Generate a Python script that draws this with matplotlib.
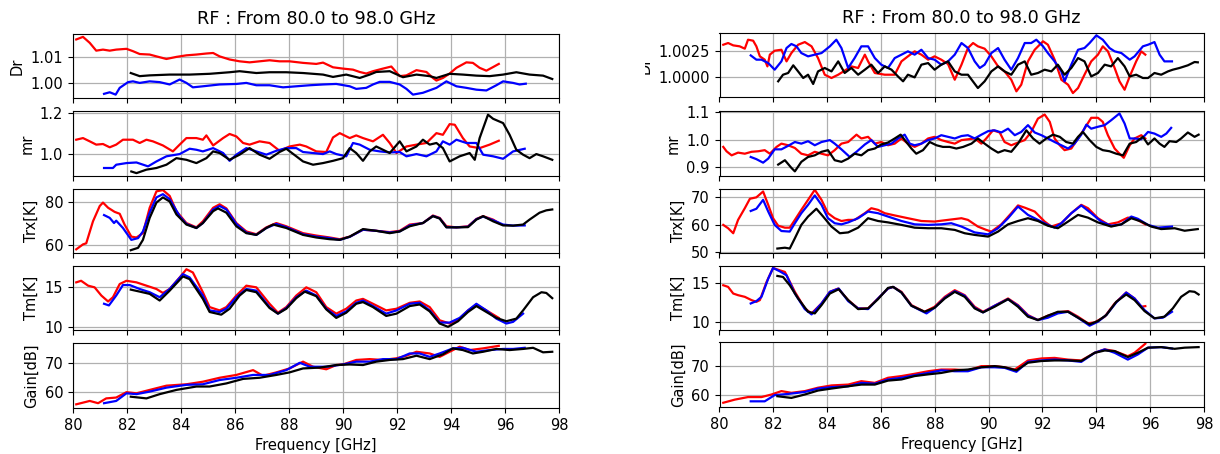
import matplotlib
matplotlib.use("Agg")
import matplotlib.pyplot as plt
from matplotlib.transforms import Bbox, TransformedBbox

# ---------------- left block ----------------
L_dr_red_f = [80.12, 80.37, 80.62, 80.86, 81.11, 81.36, 81.60, 81.98, 82.22, 82.47, 82.84, 83.09, 83.46, 83.83, 84.20, 84.57,
              84.94, 85.19, 85.43, 85.80, 86.17, 86.54, 86.91, 87.28, 87.65, 88.02, 88.52, 89.01, 89.26, 89.63, 90.00, 90.37,
              90.62, 90.86, 91.11, 91.48, 91.79, 92.10, 92.35, 92.72, 93.09, 93.33, 93.46, 93.70, 93.95, 94.20, 94.57, 94.81,
              95.06, 95.31, 95.56, 95.77]
L_dr_red = [1.0167, 1.0177, 1.0154, 1.0124, 1.0128, 1.0124, 1.0128, 1.0131, 1.0122, 1.0111, 1.0109, 1.0102, 1.0092, 1.0100, 1.0106, 1.0109,
            1.0113, 1.0115, 1.0102, 1.0090, 1.0083, 1.0079, 1.0083, 1.0087, 1.0083, 1.0083, 1.0077, 1.0073, 1.0078, 1.0060, 1.0055, 1.0051,
            1.0042, 1.0036, 1.0045, 1.0055, 1.0063, 1.0026, 1.0029, 1.0049, 1.0042, 1.0019, 1.0009, 1.0019, 1.0036, 1.0058, 1.0079, 1.0077,
            1.0058, 1.0047, 1.0061, 1.0073]
L_dr_blue_f = [81.15, 81.36, 81.58, 81.73, 82.04, 82.22, 82.47, 82.84, 83.21, 83.58, 83.95, 84.20, 84.44, 84.81, 85.43, 86.05,
               86.42, 86.79, 87.28, 87.78, 88.27, 88.77, 89.26, 89.75, 90.25, 90.49, 90.86, 91.11, 91.36, 91.73, 92.10, 92.35,
               92.59, 92.96, 93.46, 93.83, 94.20, 94.57, 94.94, 95.31, 95.68, 95.93, 96.30, 96.54, 96.77]
L_dr_blue = [0.9958, 0.9964, 0.9955, 0.9981, 1.0003, 1.0006, 1.0000, 1.0006, 1.0003, 0.9994, 1.0013, 1.0000, 0.9983, 0.9987, 0.9994, 0.9996,
             1.0000, 0.9991, 0.9991, 0.9983, 0.9987, 0.9991, 0.9994, 0.9996, 0.9987, 0.9977, 0.9981, 0.9994, 1.0004, 1.0004, 0.9994, 0.9977,
             0.9955, 0.9962, 0.9981, 1.0006, 0.9987, 0.9981, 0.9974, 0.9971, 0.9991, 1.0006, 1.0000, 0.9994, 0.9997]
L_dr_black_f = [82.14, 82.47, 82.84, 83.58, 84.32, 85.06, 85.80, 86.17, 86.79, 87.28, 87.90, 88.52, 89.26, 89.63, 90.12, 90.62,
                90.99, 91.23, 91.73, 92.22, 92.72, 93.21, 93.46, 93.95, 94.44, 94.94, 95.43, 95.93, 96.42, 96.91, 97.41, 97.75]
L_dr_black = [1.0038, 1.0026, 1.0029, 1.0032, 1.0032, 1.0035, 1.0041, 1.0045, 1.0038, 1.0041, 1.0041, 1.0038, 1.0032, 1.0023, 1.0032, 1.0019,
              1.0032, 1.0042, 1.0045, 1.0022, 1.0032, 1.0026, 1.0019, 1.0035, 1.0032, 1.0028, 1.0026, 1.0032, 1.0041, 1.0032, 1.0028, 1.0015]

L_mr_red_f = [80.12, 80.37, 80.62, 80.86, 81.11, 81.36, 81.60, 81.85, 82.22, 82.47, 82.72, 82.96, 83.33, 83.70, 83.95, 84.20,
              84.57, 84.81, 84.94, 85.19, 85.56, 85.80, 86.05, 86.30, 86.54, 86.91, 87.28, 87.65, 88.02, 88.40, 88.64, 89.01,
              89.38, 89.63, 89.88, 90.25, 90.49, 90.74, 91.11, 91.48, 91.73, 91.98, 92.35, 92.72, 93.09, 93.46, 93.70, 93.95,
              94.14, 94.44, 94.69, 95.06, 95.43, 95.77]
L_mr_red = [1.070, 1.078, 1.062, 1.046, 1.049, 1.033, 1.046, 1.070, 1.070, 1.054, 1.070, 1.062, 1.042, 1.013, 1.046, 1.078,
            1.078, 1.070, 1.091, 1.042, 1.078, 1.098, 1.086, 1.054, 1.046, 1.062, 1.054, 1.016, 1.037, 1.046, 1.037, 1.013,
            1.010, 1.081, 1.102, 1.078, 1.091, 1.078, 1.062, 1.094, 1.054, 1.005, 1.037, 1.046, 1.054, 1.102, 1.094, 1.146,
            1.143, 1.078, 1.037, 1.029, 1.046, 1.065]
L_mr_blue_f = [81.15, 81.48, 81.60, 81.98, 82.35, 82.78, 83.09, 83.46, 83.95, 84.32, 84.57, 84.81, 85.19, 85.56, 85.80, 86.05,
               86.42, 86.79, 87.16, 87.53, 87.90, 88.27, 88.52, 88.89, 89.26, 89.51, 89.75, 90.12, 90.37, 90.62, 90.99, 91.36,
               91.73, 92.10, 92.35, 92.72, 93.09, 93.46, 93.70, 93.95, 94.20, 94.57, 94.94, 95.19, 95.56, 95.93, 96.30, 96.73]
L_mr_blue = [0.932, 0.932, 0.948, 0.956, 0.959, 0.940, 0.964, 0.989, 1.000, 1.026, 1.021, 1.013, 1.029, 1.005, 0.967, 0.997,
             1.029, 1.013, 0.997, 1.016, 1.029, 1.029, 1.010, 1.005, 1.000, 1.013, 1.000, 0.989, 1.054, 1.046, 1.021, 1.013,
             1.008, 1.010, 0.989, 1.000, 0.989, 1.013, 1.062, 1.046, 1.070, 1.054, 1.054, 0.997, 0.989, 0.977, 1.013, 1.026]
L_mr_black_f = [82.16, 82.35, 82.72, 83.09, 83.46, 83.83, 84.20, 84.57, 84.94, 85.19, 85.43, 85.80, 86.17, 86.54, 86.91, 87.28,
                87.65, 87.90, 88.27, 88.52, 88.89, 89.26, 89.63, 90.00, 90.25, 90.49, 90.74, 90.99, 91.23, 91.48, 91.73, 92.10,
                92.35, 92.72, 92.96, 93.21, 93.46, 93.70, 93.95, 94.32, 94.69, 94.88, 95.06, 95.37, 95.56, 95.93, 96.17, 96.42,
                96.67, 96.91, 97.16, 97.41, 97.75]
L_mr_black = [0.915, 0.907, 0.924, 0.932, 0.948, 0.980, 0.972, 0.956, 0.980, 1.013, 1.005, 0.972, 0.997, 1.029, 0.997, 0.977,
              1.010, 1.026, 0.989, 0.964, 0.948, 0.956, 0.967, 0.980, 1.029, 1.005, 0.967, 1.013, 1.037, 1.021, 1.005, 1.062,
              1.013, 1.037, 1.070, 1.046, 1.054, 1.029, 0.964, 0.989, 1.005, 0.972, 1.078, 1.192, 1.172, 1.151, 1.094, 1.021,
              0.997, 0.980, 1.000, 0.989, 0.972]

L_trx_red_f = [80.12, 80.37, 80.49, 80.74, 80.99, 81.11, 81.30, 81.54, 81.73, 81.91, 82.16, 82.35, 82.59, 82.84, 83.09, 83.33,
               83.58, 83.83, 84.20, 84.57, 84.81, 85.19, 85.43, 85.68, 86.05, 86.42, 86.79, 87.16, 87.53, 87.90, 88.52, 89.01,
               89.51, 89.88, 90.25, 90.74, 91.23, 91.73, 92.10, 92.47, 92.96, 93.33, 93.58, 93.83, 94.20, 94.63, 94.94, 95.19,
               95.56, 95.77]
L_trx_red = [58.0, 60.3, 60.8, 71.0, 78.1, 79.7, 77.3, 75.4, 74.5, 69.5, 63.9, 63.5, 65.5, 77.3, 84.9, 85.5,
             82.8, 75.7, 70.2, 68.2, 71.0, 77.3, 78.9, 77.0, 70.2, 66.3, 65.0, 68.2, 70.2, 68.7, 65.5, 64.4,
             63.5, 62.7, 63.9, 67.1, 66.6, 66.0, 66.6, 69.5, 70.2, 73.7, 72.6, 68.7, 68.2, 68.7, 72.1, 73.4,
             71.8, 70.2]
L_trx_blue_f = [81.15, 81.36, 81.52, 81.60, 81.85, 82.16, 82.41, 82.59, 82.84, 83.09, 83.33, 83.58, 83.95, 84.20, 84.57, 84.81,
                85.19, 85.43, 85.68, 86.05, 86.42, 86.79, 87.16, 87.53, 87.90, 88.52, 89.01, 89.51, 89.88, 90.25, 90.74, 91.23,
                91.73, 92.10, 92.47, 92.96, 93.33, 93.58, 93.83, 94.20, 94.63, 94.94, 95.19, 95.56, 95.93, 96.30, 96.73]
L_trx_blue = [73.9, 72.6, 70.2, 71.3, 67.9, 62.4, 63.2, 66.3, 75.0, 82.1, 83.6, 81.3, 73.4, 69.8, 67.9, 70.2,
              76.5, 78.1, 76.5, 69.8, 65.8, 64.7, 67.9, 69.8, 68.3, 65.0, 63.9, 63.2, 62.4, 63.8, 67.1, 66.6,
              65.8, 66.3, 69.1, 70.2, 73.5, 72.4, 68.3, 68.2, 68.5, 72.0, 73.2, 71.5, 69.5, 69.0, 69.1]
L_trx_black_f = [82.14, 82.41, 82.59, 82.84, 83.09, 83.33, 83.58, 83.83, 84.20, 84.57, 84.81, 85.19, 85.37, 85.68, 86.05, 86.42,
                 86.79, 87.16, 87.41, 87.90, 88.52, 89.01, 89.51, 89.88, 90.25, 90.74, 91.23, 91.73, 92.10, 92.47, 92.96, 93.33,
                 93.58, 93.83, 94.20, 94.63, 94.94, 95.19, 95.56, 95.93, 96.30, 96.67, 96.91, 97.28, 97.53, 97.75]
L_trx_black = [57.6, 58.7, 62.4, 72.6, 79.7, 82.1, 80.2, 74.2, 69.5, 67.9, 70.2, 75.7, 77.0, 75.0, 68.7, 65.5,
               64.7, 67.9, 69.5, 67.9, 64.7, 63.5, 62.7, 62.4, 63.9, 67.4, 66.6, 65.5, 66.3, 68.7, 70.2, 73.4,
               72.3, 68.2, 68.2, 68.3, 71.8, 73.4, 71.0, 69.1, 69.0, 69.5, 71.8, 75.0, 76.1, 76.5]

L_tm_red_f = [80.12, 80.30, 80.56, 80.80, 81.05, 81.30, 81.48, 81.73, 81.98, 82.35, 82.72, 83.09, 83.33, 83.58, 83.95, 84.20,
              84.44, 84.81, 85.06, 85.43, 85.68, 86.05, 86.42, 86.79, 87.28, 87.59, 87.90, 88.27, 88.64, 89.01, 89.38, 89.75,
              90.12, 90.49, 90.74, 91.11, 91.60, 91.98, 92.47, 92.84, 93.21, 93.58, 93.95, 94.32, 94.63, 94.94, 95.31, 95.77]
L_tm_red = [15.63, 15.83, 15.21, 15.00, 13.96, 13.21, 13.75, 15.42, 15.83, 15.63, 15.21, 14.79, 14.29, 14.79, 16.25, 17.29,
            16.88, 14.38, 12.50, 12.08, 12.50, 13.96, 15.21, 15.00, 12.92, 11.79, 12.50, 13.96, 15.00, 14.38, 12.50, 11.67,
            12.29, 13.33, 13.54, 12.92, 12.08, 12.29, 13.04, 13.21, 12.50, 10.83, 10.42, 11.04, 12.08, 12.79, 12.08, 11.13]
L_tm_blue_f = [81.15, 81.33, 81.60, 81.85, 82.10, 82.47, 82.84, 83.21, 83.58, 84.07, 84.32, 84.81, 85.06, 85.43, 85.68, 86.05,
               86.42, 86.79, 87.28, 87.59, 87.90, 88.27, 88.64, 89.01, 89.38, 89.75, 90.12, 90.49, 90.74, 91.11, 91.60, 91.98,
               92.47, 92.84, 93.21, 93.58, 93.95, 94.32, 94.63, 94.94, 95.31, 95.68, 96.05, 96.30, 96.67]
L_tm_blue = [12.92, 12.71, 13.96, 15.29, 15.29, 14.79, 14.38, 13.75, 14.79, 16.67, 16.25, 13.96, 12.08, 11.88, 12.29, 13.75,
             14.79, 14.58, 12.50, 11.67, 12.38, 13.75, 14.58, 13.96, 12.29, 11.38, 11.96, 13.04, 13.33, 12.63, 11.67, 12.08,
             12.92, 13.04, 12.08, 10.54, 10.54, 11.13, 12.08, 12.92, 12.08, 11.04, 10.42, 10.63, 11.67]
L_tm_black_f = [82.14, 82.47, 82.84, 83.21, 83.58, 84.07, 84.32, 84.81, 85.06, 85.49, 85.80, 86.17, 86.42, 86.79, 87.28, 87.59,
                87.90, 88.27, 88.58, 89.01, 89.38, 89.75, 90.12, 90.49, 90.74, 91.11, 91.60, 91.98, 92.47, 92.84, 93.21, 93.58,
                93.89, 94.26, 94.63, 94.94, 95.31, 95.68, 96.05, 96.42, 96.67, 97.04, 97.35, 97.53, 97.75]
L_tm_black = [14.71, 14.46, 14.17, 13.33, 14.58, 16.38, 16.04, 13.54, 11.88, 11.54, 12.29, 13.96, 14.67, 14.38, 12.38, 11.67,
              12.29, 13.63, 14.46, 13.88, 12.21, 11.13, 11.79, 12.92, 13.13, 12.50, 11.38, 11.67, 12.63, 12.83, 11.96, 10.42,
              10.00, 10.71, 11.88, 12.63, 11.88, 11.13, 10.71, 11.04, 12.08, 13.75, 14.38, 14.29, 13.63]

L_gain_red_f = [80.12, 80.62, 80.93, 81.23, 81.60, 81.98, 82.35, 82.84, 83.46, 84.20, 84.81, 85.43, 86.05, 86.67, 87.04, 87.53,
                88.02, 88.52, 88.89, 89.38, 89.75, 90.00, 90.49, 90.99, 91.48, 91.98, 92.35, 92.72, 93.21, 93.58, 93.95, 94.32,
                94.69, 95.19, 95.77]
L_gain_red = [55.5, 56.7, 55.9, 57.6, 57.9, 59.8, 59.4, 60.6, 62.1, 62.6, 63.5, 64.9, 65.9, 67.6, 65.6, 66.8,
              68.2, 70.6, 68.8, 67.9, 69.4, 69.6, 71.2, 71.5, 71.2, 71.8, 72.7, 74.1, 73.5, 72.3, 74.1, 75.9,
              74.7, 75.3, 76.2]
L_gain_blue_f = [81.15, 81.60, 81.98, 82.35, 82.84, 83.46, 84.20, 84.81, 85.43, 86.05, 86.67, 87.28, 87.90, 88.40, 88.77, 89.38,
                 90.00, 90.49, 90.99, 91.48, 91.98, 92.47, 92.84, 93.21, 93.58, 94.07, 94.44, 94.94, 95.43, 95.93, 96.30, 96.73]
L_gain_blue = [55.9, 56.7, 59.4, 59.1, 60.0, 61.4, 62.4, 62.6, 64.1, 64.9, 65.9, 65.9, 67.6, 70.2, 68.8, 68.8,
               69.6, 70.6, 70.6, 71.5, 71.5, 73.5, 73.5, 72.3, 73.5, 75.3, 75.5, 74.1, 74.7, 75.1, 75.1, 75.5]
L_gain_black_f = [82.14, 82.72, 83.21, 83.83, 84.57, 85.06, 85.68, 86.30, 86.91, 87.53, 88.02, 88.52, 89.14, 89.75, 90.25, 90.74,
                  91.23, 91.73, 92.22, 92.72, 93.21, 93.70, 94.07, 94.44, 94.81, 95.19, 95.68, 96.17, 96.67, 97.04, 97.41, 97.75]
L_gain_black = [58.2, 57.6, 59.1, 60.6, 61.8, 61.8, 62.9, 64.5, 64.9, 65.9, 66.8, 68.2, 68.5, 69.4, 69.6, 69.4,
                70.6, 71.2, 71.5, 72.7, 71.5, 73.2, 75.3, 74.7, 73.5, 74.1, 75.1, 74.7, 75.1, 75.5, 73.9, 74.1]

# ---------------- right block ----------------
R_dr_red_f = [80.14, 80.32, 80.51, 80.75, 80.94, 81.06, 81.25, 81.37, 81.50, 81.68, 81.78, 81.87, 82.05, 82.30, 82.49, 82.67,
              82.92, 83.17, 83.42, 83.66, 83.91, 84.16, 84.41, 84.65, 84.90, 85.15, 85.40, 85.52, 85.77, 86.14, 86.51, 86.76,
              87.00, 87.25, 87.50, 87.75, 87.99, 88.24, 88.49, 88.74, 88.99, 89.23, 89.42, 89.60, 89.85, 90.10, 90.35, 90.59,
              90.84, 91.03, 91.21, 91.46, 91.71, 92.02, 92.20, 92.45, 92.70, 92.95, 93.13, 93.32, 93.56, 93.81, 94.06, 94.24,
              94.43, 94.68, 94.86, 95.05, 95.24, 95.48, 95.67, 95.82]
R_dr_red = [1.00306, 1.00322, 1.00300, 1.00291, 1.00269, 1.00353, 1.00344, 1.00291, 1.00197, 1.00166, 1.00103, 1.00213, 1.00250, 1.00259, 1.00150, 1.00228,
            1.00306, 1.00331, 1.00291, 1.00181, 1.00025, 0.99994, 1.00025, 1.00063, 1.00103, 1.00088, 1.00213, 1.00150, 1.00041, 1.00025, 1.00025, 1.00150,
            1.00197, 1.00244, 1.00213, 1.00166, 1.00197, 1.00166, 1.00125, 0.99978, 1.00119, 1.00275, 1.00322, 1.00291, 1.00269, 1.00197, 1.00103, 1.00056,
            0.99978, 0.99869, 0.99931, 1.00150, 1.00259, 1.00338, 1.00306, 1.00166, 0.99978, 0.99931, 0.99853, 0.99900, 1.00025, 1.00150, 1.00213, 1.00291,
            1.00244, 1.00088, 0.99963, 0.99884, 1.00009, 1.00150, 1.00244, 1.00213]
R_dr_blue_f = [81.16, 81.37, 81.56, 81.81, 82.05, 82.30, 82.49, 82.67, 82.86, 83.04, 83.29, 83.54, 83.79, 84.10, 84.34, 84.53,
               84.78, 85.02, 85.27, 85.52, 85.77, 86.01, 86.26, 86.51, 86.76, 87.00, 87.25, 87.50, 87.75, 87.99, 88.24, 88.49,
               88.74, 88.99, 89.23, 89.48, 89.67, 89.85, 90.10, 90.35, 90.59, 90.84, 91.09, 91.34, 91.58, 91.77, 92.02, 92.20,
               92.45, 92.70, 92.82, 93.07, 93.32, 93.56, 93.75, 94.00, 94.24, 94.49, 94.68, 94.93, 95.24, 95.42, 95.73, 95.92,
               96.16, 96.35, 96.53, 96.81]
R_dr_blue = [1.00206, 1.00166, 1.00166, 1.00134, 1.00072, 1.00150, 1.00275, 1.00313, 1.00291, 1.00228, 1.00197, 1.00213, 1.00228, 1.00291, 1.00353, 1.00275,
             1.00088, 1.00181, 1.00291, 1.00291, 1.00181, 1.00119, 1.00088, 1.00181, 1.00213, 1.00244, 1.00213, 1.00259, 1.00181, 1.00166, 1.00119, 1.00150,
             1.00213, 1.00322, 1.00275, 1.00150, 1.00088, 1.00119, 1.00228, 1.00275, 1.00166, 1.00072, 1.00181, 1.00322, 1.00322, 1.00353, 1.00291, 1.00228,
             1.00150, 1.00056, 0.99963, 1.00119, 1.00259, 1.00275, 1.00322, 1.00394, 1.00353, 1.00275, 1.00244, 1.00228, 1.00166, 1.00197, 1.00291, 1.00306,
             1.00331, 1.00213, 1.00150, 1.00150]
R_dr_black_f = [82.18, 82.36, 82.55, 82.74, 82.92, 83.11, 83.29, 83.48, 83.66, 83.91, 84.16, 84.41, 84.65, 84.90, 85.15, 85.40,
                85.64, 85.89, 86.14, 86.39, 86.63, 86.82, 87.00, 87.25, 87.50, 87.75, 87.99, 88.24, 88.49, 88.74, 88.99, 89.23,
                89.60, 89.85, 90.10, 90.35, 90.59, 90.84, 91.09, 91.34, 91.58, 91.83, 92.08, 92.33, 92.57, 92.82, 93.07, 93.32,
                93.56, 93.81, 94.06, 94.31, 94.55, 94.80, 95.05, 95.24, 95.48, 95.73, 95.92, 96.16, 96.41, 96.66, 96.84, 97.09,
                97.40, 97.65, 97.77]
R_dr_black = [0.99963, 1.00025, 1.00041, 1.00113, 1.00056, 0.99994, 1.00025, 0.99938, 1.00056, 1.00088, 1.00056, 1.00150, 1.00041, 1.00088, 1.00025, 1.00072,
              1.00119, 1.00041, 1.00103, 1.00072, 1.00009, 0.99963, 1.00025, 1.00000, 1.00119, 1.00134, 1.00072, 1.00119, 1.00150, 1.00056, 1.00025, 1.00025,
              0.99900, 0.99963, 1.00056, 1.00103, 1.00056, 1.00025, 1.00119, 1.00150, 1.00025, 1.00041, 1.00072, 1.00056, 1.00119, 1.00025, 1.00088, 1.00181,
              1.00150, 1.00009, 1.00041, 1.00119, 1.00103, 1.00181, 1.00103, 1.00009, 1.00025, 0.99994, 0.99994, 1.00041, 1.00025, 1.00056, 1.00072, 1.00088,
              1.00113, 1.00144, 1.00141]

R_mr_red_f = [80.14, 80.26, 80.45, 80.69, 80.94, 81.19, 81.44, 81.68, 81.87, 82.12, 82.30, 82.55, 82.80, 83.04, 83.29, 83.54,
              83.79, 84.03, 84.28, 84.53, 84.78, 85.09, 85.27, 85.52, 85.77, 86.01, 86.26, 86.51, 86.76, 87.00, 87.25, 87.50,
              87.75, 87.99, 88.24, 88.49, 88.74, 88.99, 89.23, 89.48, 89.73, 89.91, 90.16, 90.41, 90.59, 90.84, 91.09, 91.34,
              91.58, 91.83, 92.08, 92.27, 92.45, 92.64, 92.82, 93.07, 93.32, 93.56, 93.81, 94.06, 94.24, 94.43, 94.68, 94.86,
              95.02, 95.24, 95.42, 95.67, 95.82]
R_mr_red = [0.973, 0.957, 0.942, 0.952, 0.948, 0.955, 0.957, 0.961, 0.948, 0.973, 0.985, 0.979, 0.969, 0.948, 0.942, 0.955,
            0.948, 0.942, 0.961, 0.985, 0.991, 1.018, 1.004, 1.010, 0.985, 0.991, 0.979, 0.985, 1.004, 0.985, 0.973, 0.985,
            1.004, 1.010, 0.998, 0.991, 0.985, 0.998, 1.001, 1.004, 0.985, 1.004, 1.034, 1.026, 0.991, 0.979, 0.989, 0.998,
            1.028, 1.077, 1.092, 1.065, 1.004, 0.979, 0.961, 0.967, 1.004, 1.040, 1.080, 1.080, 1.065, 1.016, 0.967, 0.948,
            0.933, 0.979, 1.004, 1.016, 1.004]
R_mr_blue_f = [81.16, 81.37, 81.62, 81.81, 82.05, 82.30, 82.55, 82.80, 83.04, 83.29, 83.54, 83.79, 84.10, 84.28, 84.53, 84.84,
               85.09, 85.40, 85.64, 85.89, 86.14, 86.39, 86.63, 86.88, 87.07, 87.25, 87.50, 87.75, 87.99, 88.24, 88.49, 88.74,
               88.99, 89.23, 89.48, 89.73, 89.98, 90.22, 90.47, 90.72, 90.97, 91.21, 91.46, 91.71, 91.96, 92.20, 92.45, 92.70,
               92.95, 93.19, 93.44, 93.63, 93.81, 94.06, 94.31, 94.55, 94.86, 95.05, 95.24, 95.42, 95.67, 95.92, 96.16, 96.41,
               96.60, 96.78]
R_mr_blue = [0.936, 0.928, 0.915, 0.930, 0.964, 0.964, 0.977, 0.991, 0.985, 0.994, 0.979, 0.991, 0.998, 0.985, 0.964, 0.936,
             0.955, 0.982, 0.998, 0.973, 0.979, 0.985, 1.004, 1.018, 0.985, 0.979, 0.985, 0.998, 1.004, 1.016, 1.010, 1.004,
             1.013, 1.016, 1.004, 1.018, 1.031, 1.034, 1.026, 1.040, 1.016, 1.028, 1.053, 1.026, 1.016, 1.004, 0.991, 0.979,
             0.967, 0.985, 1.018, 1.055, 1.040, 1.047, 1.053, 1.071, 1.096, 1.059, 1.004, 1.004, 1.001, 1.028, 1.022, 1.010,
             1.022, 1.043]
R_mr_black_f = [82.18, 82.43, 82.67, 82.80, 83.04, 83.29, 83.54, 83.79, 84.03, 84.28, 84.53, 84.78, 85.02, 85.27, 85.52, 85.77,
                86.01, 86.26, 86.51, 86.73, 86.94, 87.13, 87.31, 87.56, 87.81, 88.06, 88.30, 88.55, 88.80, 89.05, 89.36, 89.60,
                89.85, 90.10, 90.35, 90.59, 90.84, 91.09, 91.40, 91.65, 91.89, 92.14, 92.39, 92.64, 92.88, 93.13, 93.32, 93.50,
                93.75, 94.00, 94.24, 94.49, 94.74, 94.99, 95.24, 95.48, 95.73, 95.92, 96.16, 96.35, 96.53, 96.72, 96.97, 97.15,
                97.40, 97.65, 97.80]
R_mr_black = [0.908, 0.924, 0.896, 0.883, 0.918, 0.936, 0.942, 0.955, 0.961, 0.924, 0.918, 0.930, 0.948, 0.942, 0.961, 0.967,
              0.982, 0.989, 1.004, 1.018, 0.991, 0.967, 0.948, 0.961, 0.991, 0.979, 0.973, 0.973, 0.967, 0.973, 0.985, 1.004,
              0.985, 0.967, 0.952, 0.961, 0.955, 0.985, 1.034, 1.004, 0.985, 1.004, 1.018, 1.010, 0.991, 0.985, 1.010, 1.028,
              0.998, 0.973, 0.961, 0.957, 0.948, 0.942, 0.985, 0.991, 1.010, 0.982, 1.004, 0.985, 0.973, 0.994, 0.991, 1.004,
              1.026, 1.010, 1.018]

R_trx_red_f = [80.14, 80.32, 80.51, 80.69, 80.94, 81.13, 81.37, 81.62, 81.81, 81.99, 82.18, 82.43, 82.61, 82.80, 83.04, 83.29,
               83.54, 83.79, 84.03, 84.28, 84.53, 84.78, 85.02, 85.40, 85.64, 85.89, 86.14, 86.51, 87.00, 87.50, 87.99, 88.49,
               88.99, 89.23, 89.60, 89.91, 90.10, 90.47, 90.84, 91.09, 91.34, 91.71, 92.08, 92.33, 92.70, 93.07, 93.44, 93.69,
               94.06, 94.43, 94.80, 95.17, 95.42, 95.82]
R_trx_red = [59.9, 58.7, 56.9, 61.7, 65.9, 69.3, 69.8, 71.9, 67.1, 62.3, 59.6, 58.9, 58.9, 61.7, 65.3, 68.9,
             72.5, 68.9, 64.1, 62.3, 61.3, 61.7, 61.7, 64.1, 65.9, 65.3, 64.1, 63.3, 62.3, 61.3, 61.1, 61.7,
             62.3, 61.7, 59.3, 58.1, 57.5, 60.1, 64.1, 66.9, 66.1, 64.7, 61.1, 59.3, 60.5, 64.1, 67.1, 65.9,
             62.3, 60.1, 60.8, 62.5, 62.3, 60.1]
R_trx_blue_f = [81.16, 81.37, 81.62, 81.81, 82.05, 82.30, 82.61, 82.80, 83.04, 83.29, 83.54, 83.79, 84.03, 84.28, 84.53, 84.78,
                85.15, 85.52, 85.89, 86.26, 86.76, 87.25, 87.75, 88.24, 88.61, 88.99, 89.48, 89.98, 90.35, 90.72, 91.09, 91.46,
                91.83, 92.20, 92.45, 92.70, 93.07, 93.44, 93.81, 94.18, 94.55, 94.93, 95.30, 95.54, 95.92, 96.29, 96.81]
R_trx_blue = [64.9, 65.7, 68.9, 64.7, 59.9, 57.7, 57.5, 60.5, 64.1, 67.1, 70.5, 67.1, 62.3, 60.5, 60.1, 60.8,
              62.3, 64.7, 64.1, 62.9, 61.3, 60.1, 59.9, 60.1, 60.5, 59.3, 57.2, 56.5, 58.7, 62.3, 66.5, 63.5,
              61.7, 59.9, 58.9, 60.5, 64.1, 66.9, 64.1, 61.1, 59.6, 60.1, 62.9, 62.1, 59.9, 58.9, 59.3]
R_trx_black_f = [82.15, 82.43, 82.61, 82.80, 83.04, 83.29, 83.60, 83.85, 84.16, 84.47, 84.78, 85.15, 85.52, 85.89, 86.26, 86.76,
                 87.25, 87.75, 88.24, 88.74, 89.11, 89.48, 89.98, 90.35, 90.72, 91.09, 91.46, 91.83, 92.20, 92.57, 92.95, 93.32,
                 93.69, 94.06, 94.55, 94.93, 95.30, 95.67, 96.04, 96.41, 96.91, 97.28, 97.77]
R_trx_black = [51.4, 51.7, 51.4, 55.1, 59.9, 62.9, 65.7, 62.9, 59.3, 56.9, 57.2, 58.9, 62.3, 61.3, 60.8, 59.9,
               58.9, 58.7, 58.7, 58.1, 56.9, 56.3, 55.7, 57.5, 60.1, 61.3, 62.3, 61.3, 59.6, 58.7, 61.1, 63.5,
               62.5, 60.8, 59.3, 60.1, 62.3, 61.1, 59.3, 58.4, 58.7, 57.8, 58.4]

R_tm_red_f = [80.14, 80.32, 80.51, 80.69, 80.94, 81.19, 81.37, 81.50, 81.75, 81.99, 82.24, 82.43, 82.80, 83.17, 83.42, 83.79,
              84.10, 84.41, 84.78, 85.15, 85.52, 85.89, 86.26, 86.45, 86.76, 87.13, 87.62, 87.99, 88.37, 88.74, 89.11, 89.48,
              89.79, 90.22, 90.72, 91.09, 91.46, 91.83, 92.20, 92.57, 92.95, 93.32, 93.69, 93.94, 94.31, 94.68, 95.11, 95.42,
              95.67, 95.82]
R_tm_red = [14.70, 14.49, 13.64, 13.43, 13.22, 12.80, 12.58, 12.80, 15.13, 16.91, 16.61, 16.40, 13.86, 11.74, 11.10, 12.37,
            13.86, 14.28, 12.80, 11.74, 11.74, 13.01, 14.28, 14.49, 13.86, 12.16, 11.31, 11.95, 13.22, 14.07, 13.43, 11.95,
            11.31, 12.08, 13.01, 12.16, 10.89, 10.25, 10.81, 11.23, 11.40, 10.68, 9.83, 9.96, 10.68, 12.37, 13.77, 13.01,
            11.95, 12.03]
R_tm_blue_f = [81.16, 81.37, 81.56, 81.81, 81.99, 82.24, 82.49, 82.80, 83.17, 83.42, 83.79, 84.10, 84.43, 84.78, 85.15, 85.52,
               85.89, 86.26, 86.45, 86.76, 87.13, 87.69, 87.99, 88.37, 88.74, 89.11, 89.48, 89.79, 90.22, 90.72, 91.09, 91.46,
               91.83, 92.20, 92.57, 92.95, 93.32, 93.75, 94.06, 94.37, 94.74, 95.11, 95.42, 95.79, 96.16, 96.47, 96.81]
R_tm_blue = [12.37, 12.67, 13.22, 15.55, 16.91, 16.48, 15.97, 13.64, 11.65, 10.97, 12.37, 13.86, 14.28, 12.67, 11.74, 11.65,
             13.01, 14.28, 14.49, 13.77, 12.08, 11.10, 11.82, 13.09, 13.94, 13.35, 11.82, 11.23, 12.08, 12.92, 12.08, 10.81,
             10.25, 10.55, 11.10, 11.31, 10.55, 9.53, 10.04, 10.89, 12.50, 13.77, 13.01, 11.53, 10.47, 10.55, 11.31]
R_tm_black_f = [82.15, 82.36, 82.61, 82.92, 83.29, 83.54, 83.79, 84.10, 84.43, 84.78, 85.15, 85.52, 85.89, 86.26, 86.45, 86.76,
                87.13, 87.62, 87.99, 88.37, 88.74, 89.11, 89.48, 89.79, 90.22, 90.72, 91.09, 91.46, 91.83, 92.20, 92.57, 92.95,
                93.32, 93.75, 94.06, 94.37, 94.74, 95.11, 95.42, 95.79, 96.16, 96.53, 96.84, 97.15, 97.46, 97.65, 97.80]
R_tm_black = [15.89, 15.76, 14.70, 13.01, 11.31, 11.10, 12.16, 13.64, 14.19, 12.80, 11.65, 11.74, 12.92, 14.36, 14.49, 13.77,
              12.08, 11.31, 11.82, 13.01, 13.86, 13.22, 11.74, 11.23, 11.95, 12.92, 11.95, 10.68, 10.25, 10.81, 11.31, 11.31,
              10.55, 9.70, 10.13, 10.89, 12.58, 13.52, 12.80, 11.40, 10.47, 10.68, 11.74, 13.22, 13.94, 13.86, 13.52]

R_gain_red_f = [80.14, 80.57, 81.06, 81.56, 81.93, 82.30, 82.67, 83.17, 83.66, 84.16, 84.78, 85.27, 85.77, 86.26, 86.76, 87.25,
                87.75, 88.24, 88.74, 89.23, 89.73, 90.22, 90.59, 90.97, 91.46, 91.96, 92.45, 92.95, 93.44, 93.94, 94.31, 94.68,
                95.17, 95.42, 95.82]
R_gain_red = [57.1, 58.2, 59.1, 59.1, 60.0, 61.2, 60.6, 61.2, 62.4, 63.2, 63.5, 64.7, 64.1, 65.9, 66.5, 67.3,
              68.2, 68.8, 68.8, 68.5, 70.0, 70.0, 69.6, 68.8, 72.0, 72.7, 72.9, 72.3, 72.0, 74.7, 75.9, 75.3,
              73.5, 74.7, 77.9]
R_gain_blue_f = [81.16, 81.68, 82.05, 82.55, 83.17, 83.66, 84.16, 84.78, 85.27, 85.77, 86.26, 86.76, 87.25, 87.75, 88.24, 88.74,
                 89.23, 89.73, 90.22, 90.59, 91.03, 91.46, 91.96, 92.45, 92.95, 93.44, 93.94, 94.31, 94.68, 95.17, 95.54, 95.92,
                 96.41, 96.81]
R_gain_blue = [57.6, 57.6, 59.8, 60.2, 60.9, 62.1, 62.6, 62.9, 64.1, 63.8, 65.3, 65.9, 66.8, 67.6, 68.5, 68.2,
               68.2, 69.6, 69.6, 69.4, 68.0, 71.5, 72.0, 72.3, 72.0, 71.5, 74.7, 75.9, 74.7, 72.3, 74.1, 76.5,
               76.7, 76.2]
R_gain_black_f = [82.15, 82.67, 83.17, 83.66, 84.16, 84.78, 85.27, 85.77, 86.26, 86.76, 87.25, 87.75, 88.24, 88.74, 89.23, 89.73,
                  90.22, 90.59, 91.03, 91.46, 91.96, 92.45, 92.95, 93.44, 93.94, 94.31, 94.68, 95.17, 95.54, 95.92, 96.41, 96.91,
                  97.28, 97.80]
R_gain_black = [59.4, 58.8, 60.0, 61.4, 62.1, 62.9, 63.5, 63.5, 64.9, 65.3, 66.5, 67.1, 67.6, 68.5, 68.8, 69.6,
                70.0, 69.6, 68.5, 71.2, 71.8, 72.0, 72.0, 71.8, 74.7, 75.5, 75.3, 73.2, 74.7, 76.5, 76.7, 76.1,
                76.5, 76.7]

# axis text / ticks
ylabels = ["Dr", "mr", "Trx[K]", "Tm[K]", "Gain[dB]"]
xticks = [80, 82, 84, 86, 88, 90, 92, 94, 96, 98]
L_yticks = [[1.00, 1.01], [1.0, 1.2], [60, 80], [10, 15], [60, 70]]
L_yticklabels = [["1.00", "1.01"], ["1.0", "1.2"], ["60", "80"], ["10", "15"], ["60", "70"]]
L_ylims = [(0.9942, 1.0188), (0.893, 1.21), (56.3, 86.0), (9.6, 17.7), (54.2, 77.2)]
R_yticks = [[1.0, 1.0025], [0.9, 1.0, 1.1], [50, 60, 70], [10, 15], [60, 70]]
R_yticklabels = [["1.0000", "1.0025"], ["0.9", "1.0", "1.1"], ["50", "60", "70"], ["10", "15"], ["60", "70"]]
R_ylims = [(0.99816, 1.00416), (0.866, 1.105), (49.8, 72.8), (8.98, 17.16), (55.6, 78.5)]

L_series = [
    [(L_dr_red_f, L_dr_red), (L_dr_blue_f, L_dr_blue), (L_dr_black_f, L_dr_black)],
    [(L_mr_red_f, L_mr_red), (L_mr_blue_f, L_mr_blue), (L_mr_black_f, L_mr_black)],
    [(L_trx_red_f, L_trx_red), (L_trx_blue_f, L_trx_blue), (L_trx_black_f, L_trx_black)],
    [(L_tm_red_f, L_tm_red), (L_tm_blue_f, L_tm_blue), (L_tm_black_f, L_tm_black)],
    [(L_gain_red_f, L_gain_red), (L_gain_blue_f, L_gain_blue), (L_gain_black_f, L_gain_black)],
]
R_series = [
    [(R_dr_red_f, R_dr_red), (R_dr_blue_f, R_dr_blue), (R_dr_black_f, R_dr_black)],
    [(R_mr_red_f, R_mr_red), (R_mr_blue_f, R_mr_blue), (R_mr_black_f, R_mr_black)],
    [(R_trx_red_f, R_trx_red), (R_trx_blue_f, R_trx_blue), (R_trx_black_f, R_trx_black)],
    [(R_tm_red_f, R_tm_red), (R_tm_blue_f, R_tm_blue), (R_tm_black_f, R_tm_black)],
    [(R_gain_red_f, R_gain_red), (R_gain_blue_f, R_gain_blue), (R_gain_black_f, R_gain_black)],
]
colors = ["red", "blue", "black"]

W, H = 1220, 454
plt.rcParams["font.size"] = 10.5

fig = plt.figure(figsize=(W / 100, H / 100), dpi=100)

def make_column(x0, x1, tops, bots, series, yticks, yticklabels, ylims):
    axes = []
    for i in range(5):
        ax = fig.add_axes([x0 / W, 1 - bots[i] / H, (x1 - x0) / W, (bots[i] - tops[i]) / H])
        for (f, v), c in zip(series[i], colors):
            ax.plot(f, v, color=c, lw=1.6)
        ax.set_xlim(80, 98)
        ax.set_ylim(*ylims[i])
        ax.set_xticks(xticks)
        ax.set_yticks(yticks[i])
        ax.set_yticklabels(yticklabels[i])
        ax.set_ylabel(ylabels[i])
        ax.grid(True, color="#b0b0b0", lw=0.9)
        if i < 4:
            ax.set_xticklabels([])
        else:
            ax.set_xlabel("Frequency [GHz]")
        axes.append(ax)
    axes[0].set_title("RF : From 80.0 to 98.0 GHz", fontsize=12.7, pad=7)
    return axes

left_axes = make_column(73, 559, [34, 111, 189, 266, 343], [98, 176, 253, 330, 408],
                        L_series, L_yticks, L_yticklabels, L_ylims)
right_axes = make_column(719.5, 1204, [33, 111, 189, 266, 342], [97, 176, 253, 330, 407],
                         R_series, R_yticks, R_yticklabels, R_ylims)

# the right-hand "Dr" label is cut off at the edge of its panel in the original
lab = right_axes[0].yaxis.label
lab.set_clip_on(True)
lab.set_clip_box(TransformedBbox(Bbox([[645 / W, 0], [1, 1]]), fig.transFigure))

fig.savefig("out.png", dpi=100)
